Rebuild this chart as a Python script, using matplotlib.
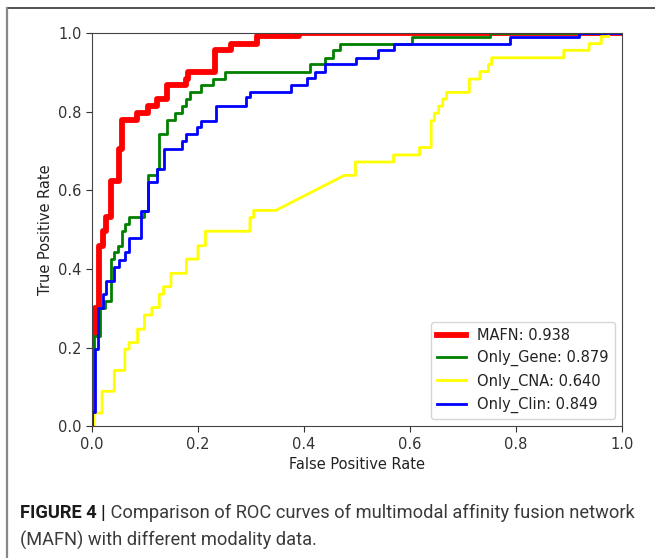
import matplotlib
matplotlib.use("Agg")
import matplotlib.pyplot as plt
from matplotlib.lines import Line2D

# ROC corner points
mafn_fpr = [0.0, 0.0, 0.006, 0.006, 0.013, 0.013, 0.021, 0.021, 0.027, 0.027,
            0.035, 0.035, 0.051, 0.051, 0.056, 0.056, 0.084, 0.084, 0.106, 0.106,
            0.122, 0.122, 0.141, 0.141, 0.177, 0.177, 0.182, 0.182, 0.233, 0.233,
            0.263, 0.263, 0.312, 0.312, 0.391, 0.391, 1.0]
mafn_tpr = [0.0, 0.234, 0.234, 0.302, 0.302, 0.459, 0.459, 0.497, 0.497, 0.531,
            0.531, 0.623, 0.623, 0.706, 0.706, 0.780, 0.780, 0.797, 0.797, 0.815,
            0.815, 0.833, 0.833, 0.867, 0.867, 0.884, 0.884, 0.901, 0.901, 0.956,
            0.956, 0.973, 0.973, 0.992, 0.992, 1.0, 1.0]

gene_fpr = [0.0, 0.0, 0.004, 0.004, 0.015, 0.015, 0.025, 0.025, 0.035, 0.035,
            0.042, 0.042, 0.049, 0.049, 0.056, 0.056, 0.063, 0.063, 0.070, 0.070,
            0.099, 0.099, 0.106, 0.106, 0.122, 0.122, 0.127, 0.127, 0.142, 0.142,
            0.157, 0.157, 0.170, 0.170, 0.177, 0.177, 0.185, 0.185, 0.206, 0.206,
            0.228, 0.228, 0.250, 0.250, 0.412, 0.412, 0.440, 0.440, 0.454, 0.454,
            0.468, 0.468, 0.604, 0.604, 0.751, 0.751, 1.0]
gene_tpr = [0.0, 0.089, 0.089, 0.230, 0.230, 0.302, 0.302, 0.319, 0.319, 0.425,
            0.425, 0.442, 0.442, 0.459, 0.459, 0.496, 0.496, 0.514, 0.514, 0.531,
            0.531, 0.548, 0.548, 0.638, 0.638, 0.655, 0.655, 0.742, 0.742, 0.778,
            0.778, 0.797, 0.797, 0.814, 0.814, 0.833, 0.833, 0.850, 0.850, 0.867,
            0.867, 0.884, 0.884, 0.902, 0.902, 0.920, 0.920, 0.937, 0.937, 0.956,
            0.956, 0.973, 0.973, 0.991, 0.991, 1.0, 1.0]

cna_fpr = [0.0, 0.0, 0.004, 0.004, 0.019, 0.019, 0.042, 0.042, 0.062, 0.062,
           0.070, 0.070, 0.086, 0.086, 0.099, 0.099, 0.113, 0.113, 0.127, 0.127,
           0.135, 0.135, 0.149, 0.149, 0.178, 0.178, 0.200, 0.200, 0.214, 0.214,
           0.298, 0.298, 0.305, 0.305, 0.347, 0.476, 0.497, 0.497, 0.569, 0.569,
           0.618, 0.618, 0.640, 0.640, 0.646, 0.646, 0.654, 0.654, 0.662, 0.662,
           0.669, 0.669, 0.712, 0.712, 0.732, 0.732, 0.748, 0.748, 0.754, 0.754,
           0.890, 0.890, 0.938, 0.938, 0.961, 0.961, 0.975, 0.975, 1.0]
cna_tpr = [0.0, 0.0, 0.0, 0.034, 0.034, 0.089, 0.089, 0.142, 0.142, 0.196,
           0.196, 0.213, 0.213, 0.247, 0.247, 0.283, 0.283, 0.302, 0.302, 0.336,
           0.336, 0.355, 0.355, 0.389, 0.389, 0.425, 0.425, 0.459, 0.459, 0.496,
           0.496, 0.531, 0.531, 0.549, 0.549, 0.638, 0.638, 0.672, 0.672, 0.690,
           0.690, 0.709, 0.709, 0.777, 0.777, 0.796, 0.796, 0.814, 0.814, 0.832,
           0.832, 0.849, 0.849, 0.883, 0.883, 0.902, 0.902, 0.920, 0.920, 0.937,
           0.937, 0.956, 0.956, 0.973, 0.973, 0.991, 0.991, 1.0, 1.0]

clin_fpr = [0.0, 0.0, 0.006, 0.006, 0.011, 0.011, 0.021, 0.021, 0.027, 0.027,
            0.042, 0.042, 0.051, 0.051, 0.063, 0.063, 0.070, 0.070, 0.092, 0.092,
            0.106, 0.106, 0.122, 0.122, 0.135, 0.135, 0.170, 0.170, 0.177, 0.177,
            0.198, 0.198, 0.206, 0.206, 0.234, 0.234, 0.290, 0.290, 0.299, 0.299,
            0.376, 0.376, 0.405, 0.405, 0.420, 0.420, 0.440, 0.440, 0.498, 0.498,
            0.539, 0.539, 0.569, 0.569, 0.789, 0.789, 0.918, 0.918, 1.0]
clin_tpr = [0.0, 0.037, 0.037, 0.196, 0.196, 0.302, 0.302, 0.336, 0.336, 0.370,
            0.370, 0.406, 0.406, 0.423, 0.423, 0.442, 0.442, 0.479, 0.479, 0.548,
            0.548, 0.621, 0.621, 0.655, 0.655, 0.706, 0.706, 0.725, 0.725, 0.742,
            0.742, 0.761, 0.761, 0.776, 0.776, 0.815, 0.815, 0.837, 0.837, 0.851,
            0.851, 0.868, 0.868, 0.885, 0.885, 0.902, 0.902, 0.920, 0.920, 0.937,
            0.937, 0.956, 0.956, 0.973, 0.973, 0.991, 0.991, 1.0, 1.0]

labels = ["MAFN: 0.938", "Only_Gene: 0.879", "Only_CNA: 0.640", "Only_Clin: 0.849"]
caption_bold = "FIGURE 4 |"
caption_rest = " Comparison of ROC curves of multimodal affinity fusion network"
caption_line2 = "(MAFN) with different modality data."

W, H = 655, 558
fig = plt.figure(figsize=(W / 100, H / 100), dpi=100)
ax = fig.add_axes([92 / W, 1 - 426.3 / H, 530 / W, 393.3 / H])

fs = 10.5
ax.plot(mafn_fpr, mafn_tpr, color="red", lw=4.2, label=labels[0])
ax.plot(gene_fpr, gene_tpr, color="green", lw=2.0, label=labels[1])
ax.plot(cna_fpr, cna_tpr, color="yellow", lw=2.0, label=labels[2])
ax.plot(clin_fpr, clin_tpr, color="blue", lw=2.0, label=labels[3])

ax.set_xlim(0, 1)
ax.set_ylim(0, 1)
ax.set_xticks([0, 0.2, 0.4, 0.6, 0.8, 1.0])
ax.set_yticks([0, 0.2, 0.4, 0.6, 0.8, 1.0])
ax.tick_params(labelsize=fs, colors="#333333", length=4)
for s in ax.spines.values():
    s.set_color("#444444")
ax.set_xlabel("False Positive Rate", fontsize=fs, color="#222222")
ax.set_ylabel("True Positive Rate", fontsize=fs, color="#222222")
ax.legend(loc="lower right", fontsize=fs, labelcolor="#222222")

# frame lines around the panel (top and left only)
fig.add_artist(Line2D([7 / W, 1.0], [1 - 8 / H, 1 - 8 / H], transform=fig.transFigure,
                      color="#333333", lw=1.2))
fig.add_artist(Line2D([7 / W, 7 / W], [1 - 8 / H, 0.0], transform=fig.transFigure,
                      color="#888888", lw=1.6))

# caption, sized so that the first line ends near x=634 px
cap_fs = 12.6
t1 = fig.text(20 / W, 1 - 513 / H, caption_bold, fontsize=cap_fs, fontweight="bold",
              family="Roboto", va="center", ha="left", color="#1a1a1a")
t2 = fig.text(0, 1 - 513 / H, caption_rest, fontsize=cap_fs,
              family="Roboto", va="center", ha="left", color="#3a3a3a")
t3 = fig.text(20 / W, 1 - 540 / H, caption_line2, fontsize=cap_fs,
              family="Roboto", va="center", ha="left", color="#3a3a3a")
fig.canvas.draw()
r = fig.canvas.get_renderer()
w = t1.get_window_extent(r).width + t2.get_window_extent(r).width
cap_fs = cap_fs * 614 / w
for t in (t1, t2, t3):
    t.set_fontsize(cap_fs)
fig.canvas.draw()
t2.set_x(t1.get_window_extent(r).x1 / W)

fig.savefig("out.png", dpi=100)
